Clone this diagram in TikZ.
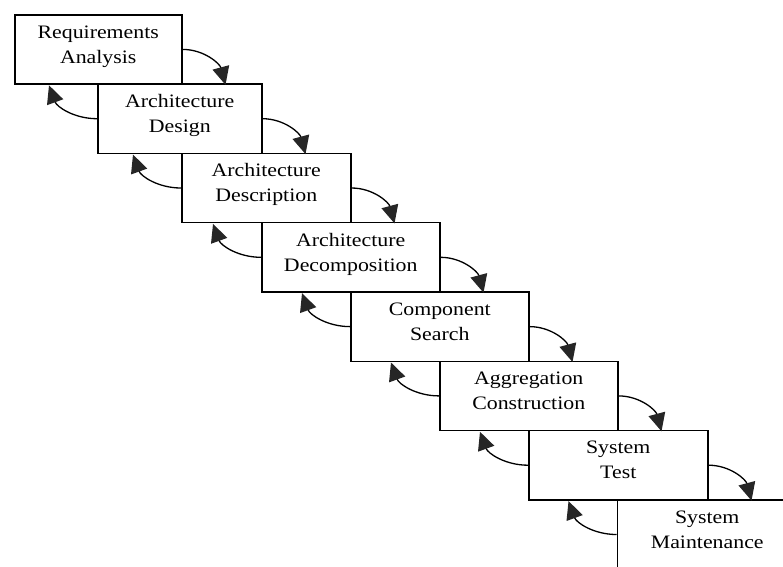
\documentclass[tikz,border=0pt]{standalone}
\usepackage{fontspec}
\setmainfont[FakeStretch=1.15]{Liberation Serif}
\usetikzlibrary{arrows.meta,calc}
\newcommand\boxtext[2]{\rule{0pt}{14pt}#1\\#2\rule[-11.5pt]{0pt}{11.5pt}}
\begin{document}
\begin{tikzpicture}[x=1pt,y=1pt,
  stage/.style={draw, line width=1.5pt, inner sep=0pt, anchor=north west,
    minimum height=69.3pt, align=center, font=\fontsize{19}{25}\selectfont},
  fwd/.style={line width=1.3pt, -{Triangle[length=18pt,width=17pt,color=black!85]}},
]
\useasboundingbox (0,0) rectangle (783,-566);
\clip (0,0) rectangle (783,-566);
\node[stage, minimum width=167pt] (b0) at (14,-14)    {\boxtext{Requirements}{Analysis}};
\node[stage, minimum width=164pt] (b1) at (97,-83.3)  {\boxtext{Architecture}{Design}};
\node[stage, minimum width=169pt] (b2) at (181,-152.6) {\boxtext{Architecture}{Description}};
\node[stage, minimum width=178pt] (b3) at (261,-221.9) {\boxtext{Architecture}{Decomposition}};
\node[stage, minimum width=178pt] (b4) at (350,-291.2) {\boxtext{Component}{Search}};
\node[stage, minimum width=178pt] (b5) at (439,-360.5) {\boxtext{Aggregation}{Construction}};
\node[stage, minimum width=179pt] (b6) at (528,-429.8) {\boxtext{System}{Test}};
\node[stage, minimum width=180pt] (b7) at (616.5,-499.1) {\boxtext{System}{Maintenance}};
\foreach \i/\j in {0/1,1/2,2/3,3/4,4/5,5/6,6/7}{
  \draw[fwd] (b\i.east) to[out=0,in=105] ($(b\i.south east)+(43,0)$);
  \draw[fwd] (b\j.west) to[out=180,in=290] ($(b\j.north west)+(-48,-2)$);
}
\end{tikzpicture}
\end{document}
